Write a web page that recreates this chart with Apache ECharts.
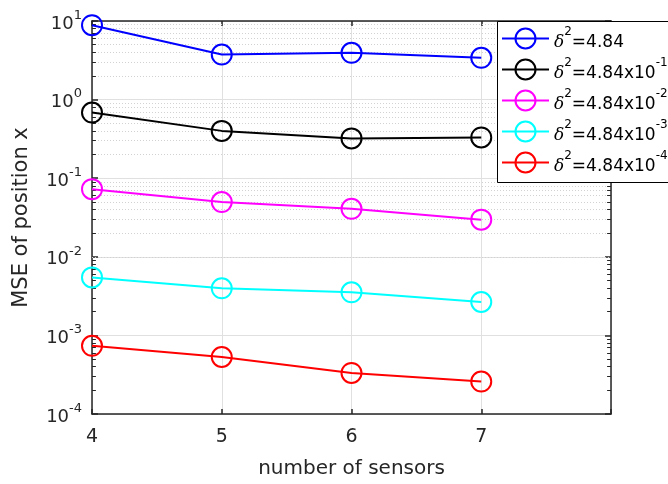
<!DOCTYPE html>
<html>
<head>
<meta charset="utf-8">
<script src="https://cdn.jsdelivr.net/npm/echarts@6/dist/echarts.min.js"></script>
<style>
  html, body { margin: 0; padding: 0; background: #fff; }
  #main { width: 668px; height: 484px; }
</style>
</head>
<body>
<div id="main"></div>
<script>
// number of sensors
var sensors = [4, 5, 6, 7];

// MSE of position x, one array per noise level
var mseA = [8.85, 3.74, 3.94, 3.40];
var mseB = [0.684, 0.400, 0.321, 0.330];
var mseC = [0.0726, 0.0497, 0.0408, 0.0297];
var mseD = [0.00547, 0.00397, 0.00353, 0.00266];
var mseE = [0.000738, 0.000531, 0.000333, 0.000259];

var seriesNames = ['d0', 'd1', 'd2', 'd3', 'd4'];
var legendExps = ['', '-1', '-2', '-3', '-4'];
var colors = ['#0000ff', '#000000', '#ff00ff', '#00ffff', '#ff0000'];
var allData = [mseA, mseB, mseC, mseD, mseE];

var xTicks = [4, 5, 6, 7];
var yExps = [-4, -3, -2, -1, 0, 1];

var textColor = '#262626';
var font = 'DejaVu Sans';

// dotted minor grid (2..9 in each decade) and short inside minor ticks
var minorLines = [];
var minorTicks = [];
for (var e = -4; e <= 0; e++) {
    for (var m = 2; m <= 9; m++) {
        var v = m * Math.pow(10, e);
        minorLines.push({ yAxis: v });
        minorTicks.push([{ coord: [4, v] }, { coord: [4.03, v] }]);
        minorTicks.push([{ coord: [7.97, v] }, { coord: [8, v] }]);
    }
}

var series = [];
for (var i = 0; i < allData.length; i++) {
    var pts = [];
    for (var j = 0; j < sensors.length; j++) {
        pts.push([sensors[j], allData[i][j]]);
    }
    series.push({
        name: seriesNames[i],
        type: 'line',
        data: pts,
        symbol: 'circle',
        symbolSize: 20,
        clip: false,
        z: 5,
        lineStyle: { color: colors[i], width: 2 },
        itemStyle: { color: 'rgba(0,0,0,0)', borderColor: colors[i], borderWidth: 2 }
    });
}

series.push({
    name: 'minor',
    type: 'line',
    data: [],
    silent: true,
    z: 1,
    markLine: {
        silent: true,
        z: 1,
        symbol: 'none',
        animation: false,
        label: { show: false },
        lineStyle: { color: '#d2d2d2', type: [1, 2], width: 1 },
        data: minorLines
    }
});
series.push({
    name: 'minorTicks',
    type: 'line',
    data: [],
    silent: true,
    z: 3,
    markLine: {
        silent: true,
        z: 3,
        symbol: 'none',
        animation: false,
        label: { show: false },
        lineStyle: { color: textColor, type: 'solid', width: 1 },
        data: minorTicks
    }
});

var myChart = echarts.init(document.getElementById('main'));

var option = {
    backgroundColor: '#ffffff',
    animation: false,
    grid: {
        left: 92, right: 57, top: 21, bottom: 67,
        show: false
    },
    // legend box, runs off the right edge like the original
    graphic: [{
        type: 'rect',
        left: 497,
        top: 21,
        z: 15,
        shape: { width: 220, height: 161 },
        style: { fill: '#ffffff', stroke: '#000000', lineWidth: 1 }
    }],
    legend: {
        data: seriesNames,
        z: 20,
        left: 497,
        top: 21,
        orient: 'vertical',
        padding: [5, 4, 7, 4],
        itemWidth: 47,
        itemHeight: 25,
        itemGap: 6,
        formatter: function (name) {
            var k = seriesNames.indexOf(name);
            if (legendExps[k] === '') {
                return '{d|δ}{s|2}{t|=4.84}';
            }
            return '{d|δ}{s|2}{t|=4.84x10}{s|' + legendExps[k] + '}';
        },
        textStyle: {
            color: '#000000',
            rich: {
                d: { fontFamily: 'DejaVu Serif', fontStyle: 'italic', fontSize: 17, color: '#000', lineHeight: 25, verticalAlign: 'bottom', padding: [6, 0, 0, 0] },
                s: { fontFamily: font, fontSize: 12, color: '#000', lineHeight: 25, verticalAlign: 'top' },
                t: { fontFamily: font, fontSize: 17, color: '#000', lineHeight: 25, verticalAlign: 'bottom', padding: [6, 0, 0, 0] }
            }
        }
    },
    xAxis: [{
        type: 'value',
        min: 4,
        max: 8,
        interval: 1,
        name: 'number of sensors',
        nameLocation: 'middle',
        nameGap: 45,
        nameTextStyle: { fontFamily: font, fontSize: 20, color: textColor },
        axisLine: { show: true, onZero: false, lineStyle: { color: textColor, width: 1.5 } },
        axisTick: { show: true, inside: true, length: 5, lineStyle: { color: textColor, width: 1.5 } },
        axisLabel: {
            fontFamily: font, fontSize: 19, color: textColor, margin: 14,
            formatter: function (v) { return xTicks.indexOf(v) >= 0 ? String(v) : ''; }
        },
        splitLine: { show: true, lineStyle: { color: '#e0e0e0', width: 1 } }
    }, {
        type: 'value',
        position: 'top',
        min: 4,
        max: 8,
        interval: 1,
        axisLine: { show: true, onZero: false, lineStyle: { color: textColor, width: 1.5 } },
        axisTick: { show: true, inside: true, length: 5, lineStyle: { color: textColor, width: 1.5 } },
        axisLabel: { show: false },
        splitLine: { show: false }
    }],
    yAxis: [{
        type: 'log',
        logBase: 10,
        min: 1e-4,
        max: 10,
        name: 'MSE of position x',
        nameLocation: 'middle',
        nameGap: 60,
        nameTextStyle: { fontFamily: font, fontSize: 21, color: textColor },
        axisLine: { show: true, onZero: false, lineStyle: { color: textColor, width: 1.5 } },
        axisTick: { show: true, inside: true, length: 6, lineStyle: { color: textColor, width: 1.5 } },
        axisLabel: {
            margin: 10,
            formatter: function (v) {
                var ex = Math.round(Math.log(v) / Math.LN10);
                if (yExps.indexOf(ex) < 0) return '';
                return '{b|10}{s|' + ex + '}';
            },
            rich: {
                b: { fontFamily: font, fontSize: 18, color: textColor, lineHeight: 24, verticalAlign: 'bottom', padding: [6, 0, 0, 0] },
                s: { fontFamily: font, fontSize: 13, color: textColor, lineHeight: 24, verticalAlign: 'top' }
            }
        },
        splitLine: { show: true, lineStyle: { color: '#e0e0e0', width: 1 } }
    }, {
        type: 'log',
        logBase: 10,
        min: 1e-4,
        max: 10,
        position: 'right',
        axisLine: { show: true, onZero: false, lineStyle: { color: textColor, width: 1.5 } },
        axisTick: { show: true, inside: true, length: 6, lineStyle: { color: textColor, width: 1.5 } },
        axisLabel: { show: false },
        splitLine: { show: false }
    }],
    series: series
};

myChart.setOption(option);
</script>
</body>
</html>
